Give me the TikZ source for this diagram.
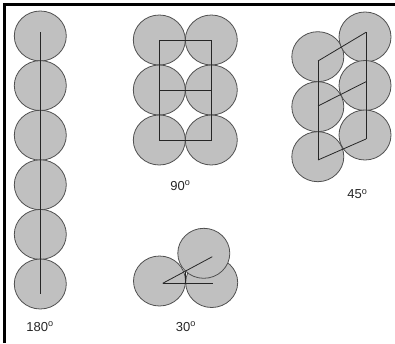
\documentclass[tikz,border=0pt]{standalone}
\usepackage{fontspec}
\setmainfont{Liberation Sans}
\usetikzlibrary{shapes.geometric}
\definecolor{ballfill}{HTML}{C0C0C0}
\definecolor{balledge}{HTML}{505050}
\begin{document}
\begin{tikzpicture}[x=1pt,y=-1pt,
  ball/.style={ellipse,draw=balledge,fill=ballfill,line width=0.8pt,minimum width=52pt,minimum height=50pt,inner sep=0pt},
  bond/.style={draw=black!85,line width=0.8pt},
  lbl/.style={font=\fontsize{13}{15}\selectfont,inner sep=0pt,text=black!85},
  frame/.style={line width=3pt}]
\useasboundingbox (0,0) rectangle (395,343);
\draw[frame] (4.5,343) -- (4.5,4.5) -- (395,4.5);
% 180
\foreach \i/\y in {1/36,2/85.6,3/135.2,4/184.8,5/234.4,6/284}
  \node[ball] (s\i) at (40.3,\y) {};
\coordinate (sTop) at (40.3,32);
\coordinate (sBot) at (40.3,294);
\draw[bond] (sTop) -- (sBot);
\node[lbl] (l180) at (40,326.5) {180\textsuperscript{o}};
% 90
\foreach \r/\y in {1/40,2/90,3/140}{
  \node[ball] (n\r1) at (159.3,\y) {};
  \node[ball] (n\r2) at (211.3,\y) {};
}
\draw[bond] (n11.center) -- (n12.center) -- (n32.center) -- (n31.center) -- cycle;
\draw[bond] (n21.center) -- (n22.center);
\node[lbl] (l90) at (180.5,185.5) {90\textsuperscript{o}};
% 45
\node[ball] (a1) at (317.8,56.7) {};
\node[ball] (a2) at (317.8,106.7) {};
\node[ball] (a3) at (317.8,156.7) {};
\node[ball] (b1) at (365,37) {};
\node[ball] (b2) at (365,85.5) {};
\node[ball] (b3) at (365,135) {};
\coordinate (p1) at (318,61);
\coordinate (p2) at (318,106);
\coordinate (p3) at (318,160);
\coordinate (q1) at (366,32.3);
\coordinate (q2) at (366,81.7);
\coordinate (q3) at (366,139);
\draw[bond] (p1) -- (p3);
\draw[bond] (q1) -- (q3);
\draw[bond] (p1) -- (q1);
\draw[bond] (p2) -- (q2);
\draw[bond] (p3) -- (q3);
\node[lbl] (l45) at (357.5,194) {45\textsuperscript{o}};
% 30
\node[ball] (c1) at (159.5,281) {};
\node[ball] (c2) at (211.7,282.5) {};
\node[ball] (c3) at (203.8,253.3) {};
\coordinate (r0) at (162.7,283.3);
\coordinate (r1) at (213.3,283.3);
\coordinate (r2) at (212.3,256.7);
\coordinate (r3) at (185.5,271.5);
\coordinate (r4) at (185.5,283.3);
\draw[bond] (r0) -- (r1);
\draw[bond] (r0) -- (r2);
\draw[bond] (r3) -- (r4);
\node[lbl] (l30) at (186,326.5) {30\textsuperscript{o}};
\end{tikzpicture}
\end{document}
